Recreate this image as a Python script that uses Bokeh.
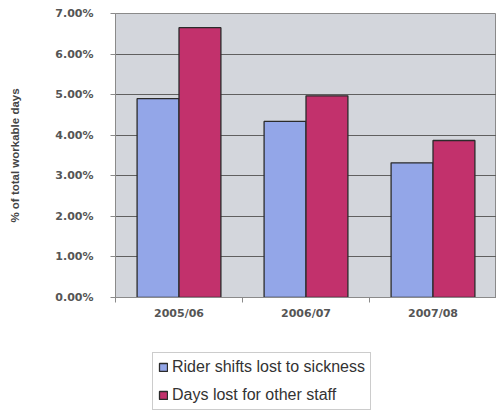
from bokeh.plotting import figure
from bokeh.layouts import column
from bokeh.models import (ColumnDataSource, Range1d, FixedTicker, PrintfTickFormatter,
                          Legend, LegendItem)
from bokeh.transform import dodge
from bokeh.embed import file_html
from bokeh.resources import INLINE

categories = ["2005/06", "2006/07", "2007/08"]
rider_shifts = [4.90, 4.34, 3.32]
other_staff = [6.65, 4.97, 3.87]
series_names = ["Rider shifts lost to sickness", "Days lost for other staff"]
series_colors = ["#93A6E8", "#C2316C"]
y_ticks = [0, 1, 2, 3, 4, 5, 6, 7]

xs = [i + 0.5 for i in range(len(categories))]
src = ColumnDataSource(dict(x=xs, rider=rider_shifts, other=other_staff))

p = figure(width=496, height=340, output_backend="svg", toolbar_location=None,
           x_range=Range1d(0, len(categories)), y_range=Range1d(0, 7),
           min_border_left=115, min_border_right=0, min_border_top=13,
           min_border_bottom=43)
p.background_fill_color = "#D3D6DC"
p.border_fill_color = "white"
p.outline_line_color = "#8a8a8a"

p.xgrid.grid_line_color = None
p.ygrid.grid_line_color = "#606060"
p.ygrid.grid_line_width = 1

p.vbar(x=dodge("x", -0.165, range=p.x_range), top="rider", width=0.33, source=src,
       fill_color=series_colors[0], line_color="#2b2b2b", line_width=1.3)
p.vbar(x=dodge("x", 0.165, range=p.x_range), top="other", width=0.33, source=src,
       fill_color=series_colors[1], line_color="#2b2b2b", line_width=1.3)

p.xaxis.ticker = FixedTicker(ticks=xs, minor_ticks=list(range(len(categories) + 1)))
p.xaxis.major_label_overrides = {x: c for x, c in zip(xs, categories)}
p.xaxis.major_tick_out = 0
p.xaxis.major_tick_in = 0
p.xaxis.minor_tick_out = 5
p.xaxis.minor_tick_in = 0
p.xaxis.major_label_standoff = 4

p.yaxis.ticker = FixedTicker(ticks=y_ticks, minor_ticks=[])
p.yaxis.formatter = PrintfTickFormatter(format="%.2f%%")
p.yaxis.major_tick_out = 5
p.yaxis.major_tick_in = 0
p.yaxis.major_label_standoff = 17
p.yaxis.axis_label = "% of total workable days"
p.yaxis.axis_label_standoff = 31
p.yaxis.axis_label_text_font = "Liberation Sans"
p.yaxis.axis_label_text_font_size = "11.5px"
p.yaxis.axis_label_text_font_style = "bold"
p.yaxis.axis_label_text_color = "#444444"

for ax in (p.xaxis, p.yaxis):
    ax.axis_line_color = "#8a8a8a"
    ax.major_tick_line_color = "#8a8a8a"
    ax.minor_tick_line_color = "#8a8a8a"
    ax.major_label_text_font = "DejaVu Sans"
    ax.major_label_text_font_size = "11px"
    ax.major_label_text_font_style = "bold"
    ax.major_label_text_color = "#555555"

# legend panel below the chart (own figure, so the legend is not clipped by the chart frame);
# its proxy bars use the same data but lie far outside this panel's visible ranges
lf = figure(width=496, height=72, output_backend="svg", toolbar_location=None,
            x_axis_type=None, y_axis_type=None, x_range=Range1d(-101, -100),
            y_range=Range1d(200, 201),
            min_border_left=0, min_border_right=0, min_border_top=0, min_border_bottom=0)
lf.outline_line_color = None
lf.background_fill_color = "white"
lf.xgrid.grid_line_color = None
lf.ygrid.grid_line_color = None
items = []
for name, col, key in zip(series_names, series_colors, ["rider", "other"]):
    r = lf.vbar(x="x", top=key, width=0.3, source=src, fill_color=col,
                line_color="#2b2b2b", line_width=1.3)
    items.append(LegendItem(label=name, renderers=[r]))

legend = Legend(items=items, location=(37, 2), orientation="vertical")
legend.label_text_font = "Liberation Sans"
legend.label_text_font_size = "16px"
legend.label_text_color = "#333333"
legend.glyph_width = 10
legend.glyph_height = 10
legend.label_height = 17
legend.label_standoff = 4
legend.spacing = 10
legend.padding = 5
legend.margin = 0
legend.border_line_color = "#999999"
legend.background_fill_color = "white"
legend.background_fill_alpha = 1
lf.add_layout(legend, "center")

layout = column(p, lf, spacing=0)
open("out.html", "w").write(file_html(layout, INLINE))
